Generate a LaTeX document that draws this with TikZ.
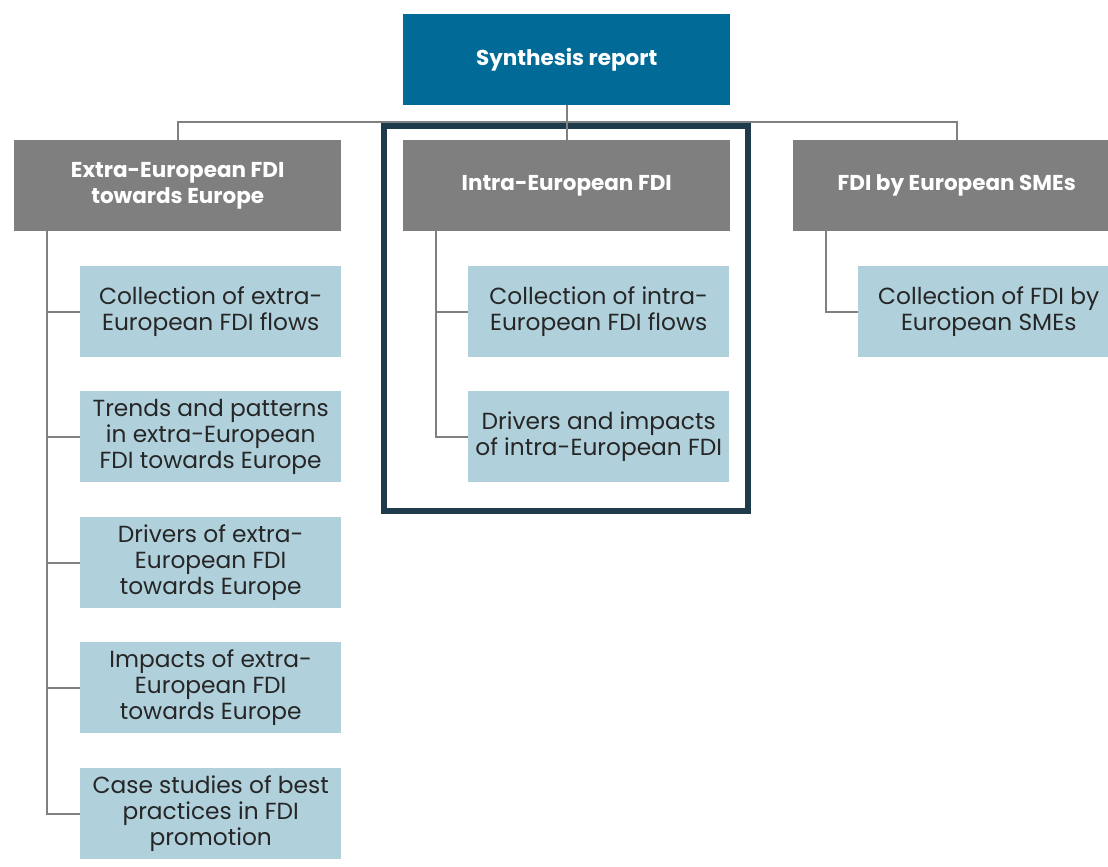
\documentclass[tikz,border=0pt]{standalone}
\usepackage{fontspec}
\setmainfont{Poppins}
\usepackage{xcolor}
\definecolor{reportblue}{RGB}{1,106,150}
\definecolor{headgray}{RGB}{127,127,127}
\definecolor{leafblue}{RGB}{176,208,220}
\definecolor{framenavy}{RGB}{31,58,75}
\definecolor{linkgray}{RGB}{128,128,128}

\begin{document}
\begin{tikzpicture}[x=1pt,y=-1pt,
    report/.style={fill=reportblue, text=white, font=\fontsize{21.5}{26}\selectfont\bfseries,
      minimum width=327pt, minimum height=91pt, inner sep=0pt, anchor=north west, align=center},
    head/.style={report, fill=headgray},
    leaf/.style={fill=leafblue, text=black!85, font=\fontsize{23.3}{26}\selectfont,
      minimum width=261pt, minimum height=91pt, inner sep=0pt, anchor=north west, align=center},
    link/.style={draw=linkgray, line width=2pt},
    frame/.style={draw=framenavy, line width=6pt}]
  \useasboundingbox (0,0) rectangle (1108,867);

  \node[report] (synth) at (403,14) {Synthesis report};

  \node[head] (extra) at (14,140) {Extra-European FDI\\towards Europe};
  \node[head] (intra) at (403,140) {Intra-European FDI};
  \node[head] (smes) at (793,140) {FDI by European SMEs};

  % extra-European branch
  \node[leaf] (x1) at (80,266) {Collection of extra-\\European FDI flows};
  \node[leaf] (x2) at (80,391) {Trends and patterns\\in extra-European\\FDI towards Europe};
  \node[leaf] (x3) at (80,517) {Drivers of extra-\\European FDI\\towards Europe};
  \node[leaf] (x4) at (80,642) {Impacts of extra-\\European FDI\\towards Europe};
  \node[leaf] (x5) at (80,768) {Case studies of best\\practices in FDI\\promotion};

  % intra-European branch
  \node[leaf] (i1) at (468,266) {Collection of intra-\\European FDI flows};
  \node[leaf] (i2) at (468,391) {Drivers and impacts\\of intra-European FDI};

  % SMEs branch
  \node[leaf] (s1) at (858,266) {Collection of FDI by\\European SMEs};

  \draw[frame] (384,126) rectangle (748,511);

  \coordinate (bus) at (566,122);
  \coordinate (xtrunk) at (47,230);
  \coordinate (itrunk) at (436,230);
  \coordinate (strunk) at (826,230);

  \draw[link] (synth) -- (intra);
  \draw[link] (extra.north) |- (bus) -| (smes.north);
  \foreach \n in {1,...,5}
    \draw[link] (xtrunk) |- (x\n.west);
  \foreach \n in {1,2}
    \draw[link] (itrunk) |- (i\n.west);
  \draw[link] (strunk) |- (s1.west);
\end{tikzpicture}
\end{document}
